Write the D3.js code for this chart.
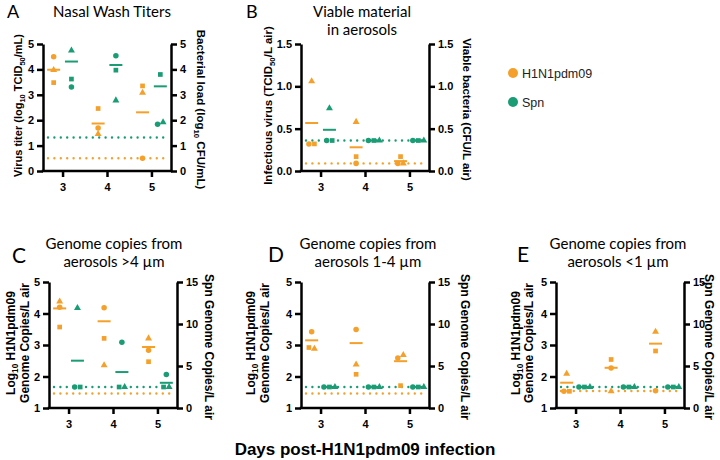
<!DOCTYPE html>
<html>
<head>
<meta charset="utf-8">
<script src="https://cdn.jsdelivr.net/npm/d3@7"></script>
<style>
  body { margin: 0; background: #fff; }
  svg { display: block; }
</style>
</head>
<body>
<div id="chart"></div>
<script>
// ---- data ----
let days = [3, 4, 5];
let shapes = ["circle", "square", "triangle"];   // one animal per shape

// per day: [circle, square, triangle]
let nasalVirus    = [[4.50, 3.48, 3.98], [1.69, 2.46, 1.46], [0.50, 3.35, 3.08]];
let nasalBacteria = [[3.31, 3.62, 4.74], [4.54, 3.97, 2.78], [1.84, 3.80, 1.92]];
let aeroVirus     = [[0.32, 0.32, 1.06], [0.09, 0.17, 0.58], [0.09, 0.17, 0.09]];
let aeroBacteria  = [[0.36, 0.36, 0.74], [0.36, 0.36, 0.36], [0.36, 0.36, 0.36]];
let gt4Virus      = [[4.20, 3.57, 4.38], [4.18, 3.21, 2.36], [2.83, 2.47, 3.21]];
let gt4Spn        = [[2.5, 2.5, 11.9], [7.84, 2.5, 2.5], [4.0, 2.5, 2.5]];
let midVirus      = [[3.42, 2.92, 2.88], [3.49, 2.07, 2.38], [2.59, 1.71, 2.68]];
let midSpn        = [[2.5, 2.5, 2.5], [2.5, 2.5, 2.5], [2.5, 2.5, 2.5]];
let lt1Virus      = [[1.53, 1.53, 2.09], [2.27, 2.54, 1.53], [1.55, 2.81, 3.42]];
let lt1Spn        = [[2.5, 2.5, 2.5], [2.5, 2.5, 2.5], [2.5, 2.5, 2.5]];

// limits of detection, panels A..E
let virusLOD = [0.5, 0.09, 1.46, 1.46, 1.54];
let spnLOD   = [1.32, 0.36, 2.5, 2.5, 2.5];

let ticksA = [0, 1, 2, 3, 4, 5];
let ticksB = [0, 0.5, 1.0, 1.5];
let ticksGenome = [1, 2, 3, 4, 5];
let ticksSpn = [0, 5, 10, 15];

let seriesNames = ["H1N1pdm09", "Spn"];

// ---- setup ----
let orange = '#f4a02b';
let green = '#1a9c74';
let boldFont = '"Liberation Sans", Arial, sans-serif';
let titleFont = 'Lato, "Open Sans", sans-serif';

let dim = {'width': 720, 'height': 460};
let svg = d3.select('#chart').append('svg')
    .attr('width', dim.width)
    .attr('height', dim.height);

let sub = s => ({text: s, sub: true});

let panels = [
  {letter: 'A', lx: 7, ly: 18, lsize: 18,
   left: 43, right: 171, top: 44, bottom: 171,
   yDom: [0, 5], rDom: [0, 5], yTicks: ticksA, rTicks: ticksA, fmt: d3.format('d'),
   virus: nasalVirus, spn: nasalBacteria, means: ['arith', 'log'], lod: 0,
   title: ['Nasal Wash Titers'], tx: 112, ty: [17],
   leftLabels: [{x: 22, size: 11, parts: ['Virus titer (log', sub('10'), ' TCID', sub('50'), '/mL)']}],
   rightLabel: {x: 197, size: 11.5, parts: ['Bacterial load (log', sub('10'), ' CFU/mL)']}},
  {letter: 'B', lx: 246, ly: 18, lsize: 18,
   left: 301, right: 429, top: 44, bottom: 171,
   yDom: [0, 1.5], rDom: [0, 1.5], yTicks: ticksB, rTicks: ticksB, fmt: d3.format('.1f'),
   virus: aeroVirus, spn: aeroBacteria, means: ['arith', 'arith'], lod: 1,
   title: ['Viable material', 'in aerosols'], tx: 362, ty: [17, 35],
   leftLabels: [{x: 272, size: 11.5, parts: ['Infectious virus (TCID', sub('50'), '/L air)']}],
   rightLabel: {x: 463, size: 11.5, parts: ['Viable bacteria (CFU/L air)']}},
  {letter: 'C', lx: 12, ly: 263, lsize: 21,
   left: 49, right: 177, top: 282, bottom: 408,
   yDom: [1, 5], rDom: [0, 15], yTicks: ticksGenome, rTicks: ticksSpn, fmt: d3.format('d'),
   virus: gt4Virus, spn: gt4Spn, means: ['log', 'arith'], lod: 2,
   title: ['Genome copies from', 'aerosols >4 µm'], tx: 114, ty: [249, 267],
   leftLabels: [{x: 15, size: 12, parts: ['Log', sub('10'), ' H1N1pdm09']},
                {x: 29, size: 12, parts: ['Genome Copies/L air']}],
   rightLabel: {x: 205, size: 12, parts: ['Spn Genome Copies/L air']}},
  {letter: 'D', lx: 268, ly: 262, lsize: 21,
   left: 301, right: 429, top: 282, bottom: 408,
   yDom: [1, 5], rDom: [0, 15], yTicks: ticksGenome, rTicks: ticksSpn, fmt: d3.format('d'),
   virus: midVirus, spn: midSpn, means: ['log', 'arith'], lod: 3,
   title: ['Genome copies from', 'aerosols 1-4 µm'], tx: 368, ty: [249, 267],
   leftLabels: [{x: 255, size: 12, parts: ['Log', sub('10'), ' H1N1pdm09']},
                {x: 269, size: 12, parts: ['Genome Copies/L air']}],
   rightLabel: {x: 461, size: 12, parts: ['Spn Genome Copies/L air']}},
  {letter: 'E', lx: 517, ly: 262, lsize: 21,
   left: 556, right: 684, top: 282, bottom: 408,
   yDom: [1, 5], rDom: [0, 15], yTicks: ticksGenome, rTicks: ticksSpn, fmt: d3.format('d'),
   virus: lt1Virus, spn: lt1Spn, means: ['log', 'arith'], lod: 4,
   title: ['Genome copies from', 'aerosols <1 µm'], tx: 618, ty: [249, 267],
   leftLabels: [{x: 520, size: 12, parts: ['Log', sub('10'), ' H1N1pdm09']},
                {x: 533, size: 12, parts: ['Genome Copies/L air']}],
   rightLabel: {x: 705, size: 12, parts: ['Spn Genome Copies/L air']}}
];

let symbolTypes = {circle: d3.symbolCircle, square: d3.symbolSquare, triangle: d3.symbolTriangle};
let symbolSizes = {circle: 24, square: 22, triangle: 21};

function meanOf(vals, kind) {
  if (kind === 'log') return Math.log10(d3.mean(vals, v => Math.pow(10, v)));
  return d3.mean(vals);
}

// push points with (nearly) equal y apart horizontally
function spread(points, step) {
  let sorted = points.slice().sort((a, b) => a.y - b.y);
  let clusters = [], cur = [];
  sorted.forEach(p => {
    if (cur.length && p.y - cur[cur.length - 1].y > 4.5) { clusters.push(cur); cur = []; }
    cur.push(p);
  });
  clusters.push(cur);
  clusters.forEach(c => {
    c.sort((a, b) => shapes.indexOf(a.shape) - shapes.indexOf(b.shape));
    c.forEach((p, i) => p.dx = (i - (c.length - 1) / 2) * step);
  });
}

function label(g, x, y, rot, size, parts) {
  let t = g.append('text')
      .attr('transform', `translate(${x},${y}) rotate(${rot})`)
      .attr('text-anchor', 'middle')
      .attr('font-family', boldFont)
      .attr('font-weight', 'bold')
      .attr('font-size', size);
  let shifted = false;
  parts.forEach(p => {
    let s = typeof p === 'string' ? {text: p} : p;
    let ts = t.append('tspan').text(s.text);
    if (s.sub) {
      ts.attr('font-size', size * 0.68).attr('dy', size * 0.28);
      shifted = true;
    } else if (shifted) {
      ts.attr('dy', -size * 0.28);
      shifted = false;
    }
  });
}

function styleAxis(ax) {
  ax.select('.domain').attr('stroke-width', 2.5).attr('stroke', '#000');
  ax.selectAll('.tick line').attr('stroke-width', 2.5).attr('stroke', '#000');
  ax.selectAll('.tick text')
    .attr('font-family', boldFont)
    .attr('font-weight', 'bold')
    .attr('font-size', 11)
    .attr('fill', '#000');
}

function drawPanel(p) {
  let g = svg.append('g');

  let scaleX = d3.scaleLinear().domain([2.56, 5.44]).range([p.left, p.right]);
  let scaleY = d3.scaleLinear().domain(p.yDom).range([p.bottom, p.top]);
  let scaleR = d3.scaleLinear().domain(p.rDom).range([p.bottom, p.top]);

  // limit of detection lines
  let lods = [{v: spnLOD[p.lod], s: scaleR, c: green}, {v: virusLOD[p.lod], s: scaleY, c: orange}];
  g.selectAll('line.lod')
    .data(lods)
    .join('line')
    .attr('class', 'lod')
    .attr('x1', p.left + 5)
    .attr('x2', p.right - 2)
    .attr('y1', d => d.s(d.v))
    .attr('y2', d => d.s(d.v))
    .attr('stroke', d => d.c)
    .attr('stroke-width', 2.4)
    .attr('stroke-linecap', 'round')
    .attr('stroke-dasharray', '0,6.4');

  // points and means per group
  let series = [
    {values: p.virus, scale: scaleY, color: orange, off: -0.2, mean: p.means[0]},
    {values: p.spn, scale: scaleR, color: green, off: 0.2, mean: p.means[1]}
  ];
  series.forEach(s => {
    days.forEach((day, i) => {
      let cx = scaleX(day + s.off);
      let pts = shapes.map((sh, k) => ({shape: sh, v: s.values[i][k], y: s.scale(s.values[i][k]), dx: 0}));
      spread(pts, 5.5);

      g.append('line')
        .attr('x1', cx - 6.5).attr('x2', cx + 6.5)
        .attr('y1', s.scale(meanOf(s.values[i], s.mean)))
        .attr('y2', s.scale(meanOf(s.values[i], s.mean)))
        .attr('stroke', s.color)
        .attr('stroke-width', 2);

      g.selectAll(null)
        .data(pts)
        .join('path')
        .attr('d', d => d3.symbol().type(symbolTypes[d.shape]).size(symbolSizes[d.shape])())
        .attr('transform', d => `translate(${cx + d.dx},${d.y})`)
        .attr('fill', s.color);
    });
  });

  // axes
  let axL = g.append('g').attr('transform', `translate(${p.left},0)`)
    .call(d3.axisLeft(scaleY).tickValues(p.yTicks).tickFormat(p.fmt).tickSize(6).tickSizeOuter(0).tickPadding(3));
  let axR = g.append('g').attr('transform', `translate(${p.right},0)`)
    .call(d3.axisRight(scaleR).tickValues(p.rTicks).tickFormat(p.fmt).tickSize(6).tickSizeOuter(0).tickPadding(3));
  let axB = g.append('g').attr('transform', `translate(0,${p.bottom})`)
    .call(d3.axisBottom(scaleX).tickValues(days).tickFormat(d3.format('d')).tickSize(6).tickSizeOuter(0).tickPadding(6));
  [axL, axR, axB].forEach(styleAxis);
  axB.select('.domain').attr('d', `M${p.left - 1.25},0H${p.right + 1.25}`);

  // titles
  g.append('text')
    .attr('x', p.lx).attr('y', p.ly)
    .attr('font-family', titleFont)
    .attr('font-size', p.lsize)
    .text(p.letter);

  g.selectAll(null)
    .data(p.title)
    .join('text')
    .attr('x', p.tx)
    .attr('y', (d, i) => p.ty[i])
    .attr('text-anchor', 'middle')
    .attr('font-family', titleFont)
    .attr('font-size', 15)
    .text(d => d);

  let midY = (p.top + p.bottom) / 2;
  p.leftLabels.forEach(l => label(g, l.x, midY - 2, -90, l.size, l.parts));
  label(g, p.rightLabel.x, midY + 2, 90, p.rightLabel.size, p.rightLabel.parts);
}

panels.forEach(drawPanel);

// shared x-axis title
svg.append('text')
  .attr('x', 365).attr('y', 455)
  .attr('text-anchor', 'middle')
  .attr('font-family', boldFont)
  .attr('font-weight', 'bold')
  .attr('font-size', 17)
  .text('Days post-H1N1pdm09 infection');

// legend
let legend = svg.append('g').attr('transform', 'translate(513,73)');
legend.selectAll('circle')
  .data(seriesNames)
  .join('circle')
  .attr('cx', 0)
  .attr('cy', (d, i) => i * 29)
  .attr('r', 5)
  .attr('fill', (d, i) => i === 0 ? orange : green);
legend.selectAll('text')
  .data(seriesNames)
  .join('text')
  .attr('x', 9)
  .attr('y', (d, i) => i * 29 + 4.5)
  .attr('font-family', '"Liberation Sans", Arial, sans-serif')
  .attr('font-size', 12.5)
  .attr('fill', '#222')
  .text(d => d);
</script>
</body>
</html>
